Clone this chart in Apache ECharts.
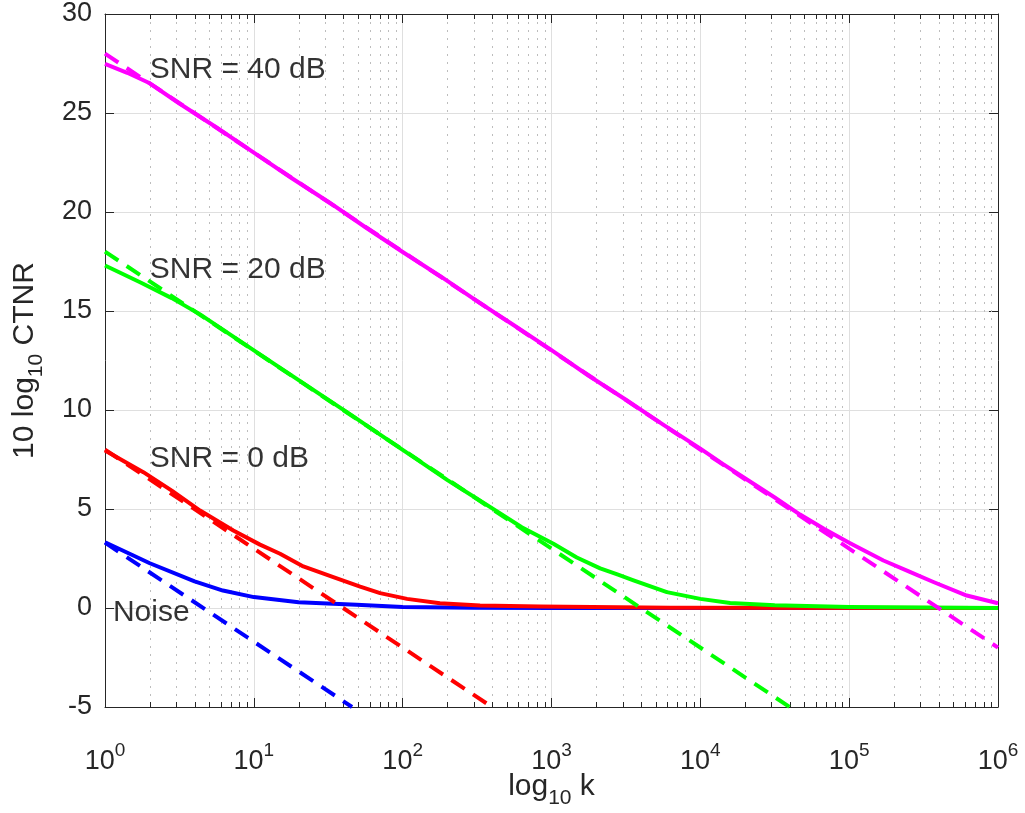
<!DOCTYPE html>
<html>
<head>
<meta charset="utf-8">
<script src="https://cdn.jsdelivr.net/npm/echarts@6/dist/echarts.min.js"></script>
<style>
  html, body { margin: 0; padding: 0; background: #ffffff; }
  #chart { width: 1025px; height: 813px; }
</style>
</head>
<body>
<div id="chart"></div>
<script>
// Measured CTNR curves, [k, 10 log10 CTNR]
const noiseCurve = [
  [1, 3.32], [1.55, 2.65], [2, 2.26], [4, 1.34], [6.2, 0.88], [10, 0.55],
  [20, 0.29], [49, 0.16], [100, 0.05], [300, 0.01], [1000, 0], [1e6, 0]
];
const snr0Curve = [
  [1, 7.95], [1.81, 6.86], [2.81, 5.93], [4.35, 4.92], [7.28, 3.91], [11, 3.2], [15, 2.74],
  [21.5, 2.1], [34.2, 1.56], [51.8, 1.08], [70.5, 0.75], [107, 0.46], [178, 0.24],
  [331, 0.13], [838, 0.08], [6270, 0.01], [1e6, 0]
];
const snr20Curve = [
  [1, 17.3], [1.72, 16.45], [2.81, 15.65], [4.35, 14.83], [7.94, 13.52], [14.1, 12.27],
  [25.1, 11.02], [44.7, 9.77], [87.1, 8.29], [126, 7.48], [200, 6.46], [316, 5.52],
  [452, 4.78], [631, 4.08], [1030, 3.24], [1479, 2.55], [2123, 2.0], [2800, 1.68], [3556, 1.39],
  [5957, 0.8], [10000, 0.46], [15850, 0.25], [31620, 0.14], [1e5, 0.05], [316200, 0.02], [1e6, 0]
];
const snr40Curve = [
  [1, 27.48], [1.41, 27.03], [2, 26.5], [3.16, 25.48], [5.62, 24.27], [10, 23.0],
  [17.8, 21.73], [31.6, 20.52], [56.2, 19.23], [100, 17.98], [178, 16.77], [316, 15.5],
  [562, 14.27], [1000, 13.02], [1778, 11.73], [3162, 10.52], [5623, 9.26], [10000, 8.05],
  [14130, 7.28], [20420, 6.5], [31620, 5.58], [46770, 4.72], [67610, 4.0], [1e5, 3.3],
  [169800, 2.4], [251200, 1.85], [371500, 1.3], [616600, 0.63], [1e6, 0.24]
];

// Asymptotic slopes (dashed)
const noiseSlope = [[1, 3.3], [45.7, -5]];
const snr0Slope = [[1, 8], [398, -5]];
const snr20Slope = [[1, 18], [39810, -5]];
const snr40Slope = [[1, 28], [1e6, -2]];

// In-plot labels, [k, value, text]
const curveLabels = [
  [2, 27.2, 'SNR = 40 dB'],
  [2, 17.1, 'SNR = 20 dB'],
  [2, 7.55, 'SNR = 0 dB'],
  [1.13, -0.22, 'Noise']
];

// Axis ranges and ticks
const xRange = [1, 1e6];
const yRange = [-5, 30];
const yStep = 5;
const decades = [1, 10, 100, 1000, 10000, 100000];
const minorSteps = [2, 3, 4, 5, 6, 7, 8, 9];

const minorTicks = [];
decades.forEach(function (d) {
  minorSteps.forEach(function (m) { minorTicks.push([d * m, 0]); });
});

const axisColor = '#262626';
const fontFamily = '"Liberation Sans", Arial, Helvetica, sans-serif';

const chart = echarts.init(document.getElementById('chart'), null, { renderer: 'canvas' });

function solid(name, data, color) {
  return {
    name: name, type: 'line', data: data, showSymbol: false, symbol: 'none',
    lineStyle: { color: color, width: 4, type: 'solid', join: 'round' },
    z: 3, silent: true
  };
}
function dashed(name, data, color) {
  return {
    name: name, type: 'line', data: data, showSymbol: false, symbol: 'none',
    lineStyle: { color: color, width: 4, type: [16, 10] },
    z: 3, silent: true
  };
}

const xLog = {
  type: 'log', logBase: 10, min: xRange[0], max: xRange[1], splitNumber: 6
};

const option = {
  backgroundColor: '#ffffff',
  animation: false,
  textStyle: { fontFamily: fontFamily },
  grid: {
    left: 105, right: 27, top: 14, bottom: 106,
    containLabel: false, outerBoundsMode: 'none'
  },
  xAxis: [
    Object.assign({}, xLog, {
      position: 'bottom',
      axisLine: { show: true, onZero: false, lineStyle: { color: axisColor, width: 1 } },
      axisTick: { show: true, inside: true, length: 9, lineStyle: { color: axisColor, width: 1 } },
      splitLine: { show: true, lineStyle: { color: '#dfdfdf', width: 1 } },
      axisLabel: {
        show: true, margin: 34, color: axisColor,
        formatter: function (v) {
          return '{b|10}{s|' + Math.round(Math.log10(v)) + '}';
        },
        rich: {
          b: { fontSize: 27, fontFamily: fontFamily, color: axisColor, lineHeight: 42, verticalAlign: 'middle' },
          s: { fontSize: 19, fontFamily: fontFamily, color: axisColor, lineHeight: 12, verticalAlign: 'top' }
        }
      },
      name: '{a|log}{s|10}{a| k}',
      nameLocation: 'middle',
      nameGap: 58,
      nameMoveOverlap: false,
      nameTextStyle: {
        rich: {
          a: { fontSize: 30, fontFamily: fontFamily, color: axisColor, lineHeight: 44, verticalAlign: 'middle' },
          s: { fontSize: 21, fontFamily: fontFamily, color: axisColor, lineHeight: 14, verticalAlign: 'bottom' }
        }
      }
    }),
    Object.assign({}, xLog, {
      position: 'top',
      axisLine: { show: true, onZero: false, lineStyle: { color: axisColor, width: 1 } },
      axisTick: { show: true, inside: true, length: 9, lineStyle: { color: axisColor, width: 1 } },
      splitLine: { show: false },
      axisLabel: { show: false }
    })
  ],
  yAxis: [
    {
      type: 'value', min: yRange[0], max: yRange[1], interval: yStep,
      position: 'left',
      axisLine: { show: true, onZero: false, lineStyle: { color: axisColor, width: 1 } },
      axisTick: { show: true, inside: true, length: 9, lineStyle: { color: axisColor, width: 1 } },
      splitLine: { show: true, lineStyle: { color: '#dfdfdf', width: 1 } },
      axisLabel: { show: true, margin: 13, fontSize: 27, color: axisColor, fontFamily: fontFamily },
      name: '{a|10 log}{s|10}{a| CTNR}',
      nameLocation: 'middle',
      nameGap: 58,
      nameRotate: 90,
      nameMoveOverlap: false,
      nameTextStyle: {
        rich: {
          a: { fontSize: 30, fontFamily: fontFamily, color: axisColor, lineHeight: 44, verticalAlign: 'middle' },
          s: { fontSize: 21, fontFamily: fontFamily, color: axisColor, lineHeight: 14, verticalAlign: 'bottom' }
        }
      }
    },
    {
      type: 'value', min: yRange[0], max: yRange[1], interval: yStep,
      position: 'right',
      axisLine: { show: true, onZero: false, lineStyle: { color: axisColor, width: 1 } },
      axisTick: { show: true, inside: true, length: 9, lineStyle: { color: axisColor, width: 1 } },
      splitLine: { show: false },
      axisLabel: { show: false }
    }
  ],
  series: [
    {
      // dotted minor grid with short minor ticks on the bottom and top edges
      type: 'custom',
      xAxisIndex: 0, yAxisIndex: 0,
      data: minorTicks,
      silent: true,
      z: 1,
      clip: false,
      renderItem: function (params, api) {
        const x = Math.round(api.coord([api.value(0), 0])[0]) + 0.5;
        const cs = params.coordSys;
        const top = cs.y, bottom = cs.y + cs.height;
        return {
          type: 'group',
          children: [
            { type: 'line', shape: { x1: x, y1: top, x2: x, y2: bottom },
              style: { stroke: '#bdbdbd', lineWidth: 1, lineDash: [2, 6] } },
            { type: 'line', shape: { x1: x, y1: bottom, x2: x, y2: bottom - 5 },
              style: { stroke: axisColor, lineWidth: 1 } },
            { type: 'line', shape: { x1: x, y1: top, x2: x, y2: top + 5 },
              style: { stroke: axisColor, lineWidth: 1 } }
          ]
        };
      }
    },
    solid('Noise', noiseCurve, '#0000ff'),
    dashed('Noise slope', noiseSlope, '#0000ff'),
    solid('SNR 0 dB', snr0Curve, '#ff0000'),
    dashed('SNR 0 dB slope', snr0Slope, '#ff0000'),
    solid('SNR 20 dB', snr20Curve, '#00ff00'),
    dashed('SNR 20 dB slope', snr20Slope, '#00ff00'),
    solid('SNR 40 dB', snr40Curve, '#ff00ff'),
    dashed('SNR 40 dB slope', snr40Slope, '#ff00ff'),
    {
      type: 'scatter',
      data: curveLabels,
      symbolSize: 0,
      silent: true,
      z: 5,
      label: {
        show: true, position: 'right', distance: 0,
        fontSize: 30, fontFamily: fontFamily, color: '#000000',
        formatter: function (p) { return p.data[2]; }
      }
    }
  ]
};

chart.setOption(option);
</script>
</body>
</html>
